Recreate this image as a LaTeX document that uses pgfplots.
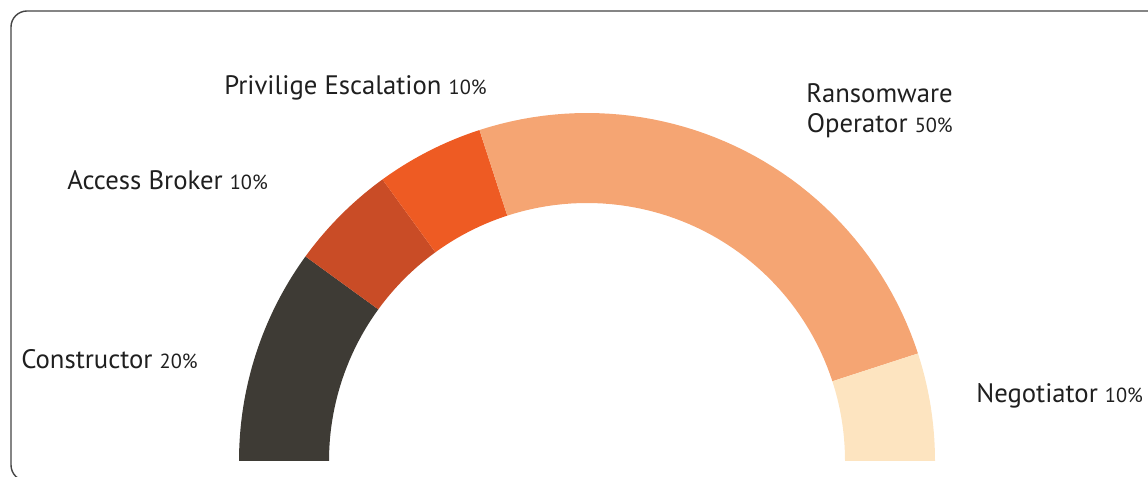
\documentclass[border=0pt]{standalone}
\usepackage{pgfplots}
\pgfplotsset{compat=1.18}
\usepackage{pgfplotstable}
\usepackage{fontspec}
\setmainfont{PT Sans}
\definecolor{cA}{HTML}{3E3B35}
\definecolor{cB}{HTML}{C94C26}
\definecolor{cC}{HTML}{EE5B23}
\definecolor{cD}{HTML}{F5A573}
\definecolor{cE}{HTML}{FDE4C0}
\definecolor{frame}{HTML}{444444}
% share of each role (percent of the half ring)
\pgfplotstableread{
pct col
20 cA
10 cB
10 cC
50 cD
10 cE
}\data
\pgfplotstablecreatecol[expr accum={\pgfmathaccuma + \thisrow{pct}}{0}]{cum}\data
\newcommand\pc[1]{{\fontsize{14.5}{16}\selectfont #1}}
\begin{document}
\begin{tikzpicture}
\begin{axis}[name=ax, hide axis, scale only axis, width=28.7cm, height=11.925cm,
  xmin=0, xmax=1148, ymin=0, ymax=477, clip=false]
\pgfplotsinvokeforeach{0,...,4}{
  \pgfplotstablegetelem{#1}{pct}\of\data \let\segp\pgfplotsretval
  \pgfplotstablegetelem{#1}{cum}\of\data \let\segc\pgfplotsretval
  \pgfplotstablegetelem{#1}{col}\of\data \let\segcol\pgfplotsretval
  \pgfmathsetmacro\aS{180-1.8*(\segc-\segp)}
  \pgfmathsetmacro\aE{180-1.8*\segc}
  \edef\doit{\noexpand\addplot[fill=\segcol, draw=none, domain=0:3, samples=151]
    ({587+(x<=1 ? 348 : (x<=2 ? 348-90*(x-1) : 258))*cos(x<=1 ? \aS+(\aE-\aS)*x : (x<=2 ? \aE : \aE-(\aE-\aS)*(x-2)))},
     {16+(x<=1 ? 348 : (x<=2 ? 348-90*(x-1) : 258))*sin(x<=1 ? \aS+(\aE-\aS)*x : (x<=2 ? \aE : \aE-(\aE-\aS)*(x-2)))}) -- cycle;}
  \doit
}
\draw[line width=1pt, color=frame, rounded corners=0.4cm]
  (axis cs:1150,466) -- (axis cs:11,466) -- (axis cs:11,-4) -- (axis cs:60,-4);
\tikzset{lab/.style={inner sep=0pt, font=\fontsize{19}{23}\selectfont, text=black!88}}
\node[lab, anchor=base west] at (axis cs:21,108) {Constructor \pc{20\%}};
\node[lab, anchor=base west] at (axis cs:67,287) {Access Broker \pc{10\%}};
\node[lab, anchor=base west] at (axis cs:224,382) {Privilige Escalation \pc{10\%}};
\node[lab, anchor=base east] at (axis cs:953,374) {Ransomware};
\node[lab, anchor=base east] at (axis cs:953,344) {Operator \pc{50\%}};
\node[lab, anchor=base west] at (axis cs:976,74) {Negotiator \pc{10\%}};
\end{axis}
\pgfresetboundingbox
\path[use as bounding box] (ax.south west) rectangle (ax.north east);
\end{tikzpicture}
\end{document}
